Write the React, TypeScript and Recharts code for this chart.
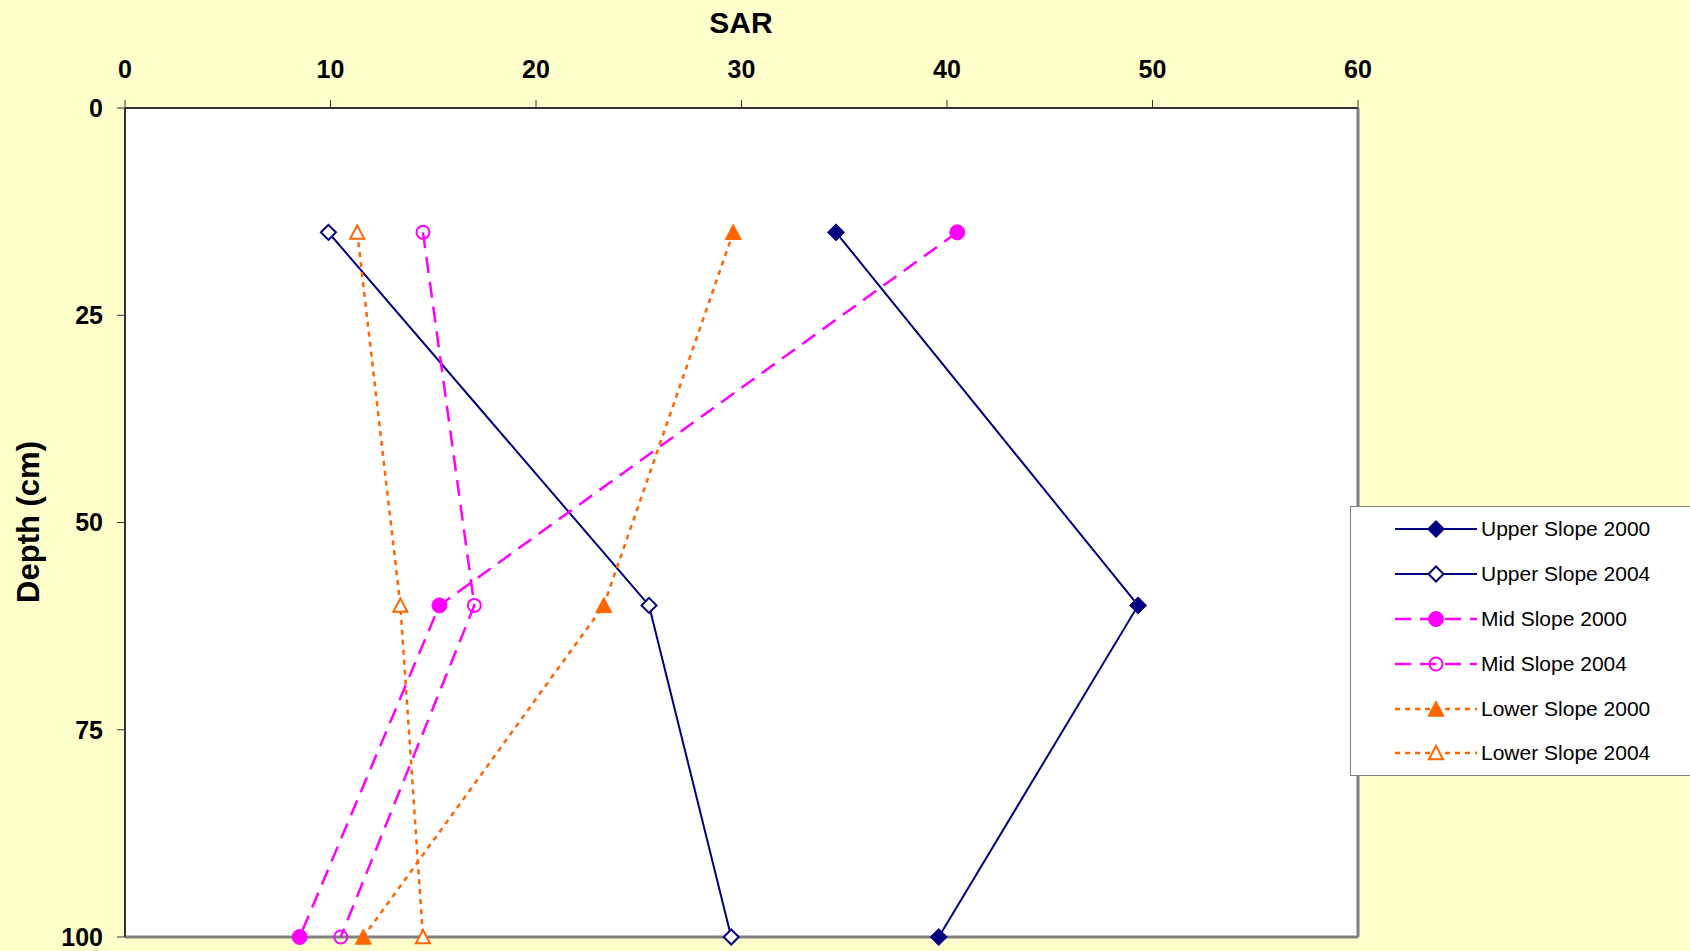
import React from "react";
import {
  ScatterChart,
  Scatter,
  XAxis,
  YAxis,
  CartesianGrid,
  ReferenceLine,
  Legend,
  Label,
} from "recharts";

// Sampling depths (cm) shared by every profile
const depths = [15, 60, 100];

// SAR readings at each depth
const upperSlope2000 = [34.6, 49.3, 39.6];
const upperSlope2004 = [9.9, 25.5, 29.5];
const midSlope2000 = [40.5, 15.3, 8.5];
const midSlope2004 = [14.5, 17.0, 10.5];
const lowerSlope2000 = [29.6, 23.3, 11.6];
const lowerSlope2004 = [11.3, 13.4, 14.5];

const sarTicks = [0, 10, 20, 30, 40, 50, 60];
const depthTicks = [0, 25, 50, 75, 100];

const NAVY = "#000080";
const MAGENTA = "#FF00FF";
const ORANGE = "#FF6600";
const FONT = "'Liberation Sans', Arial, sans-serif";

type MarkerKind = "diamond" | "circle" | "triangle";

type SeriesDef = {
  name: string;
  values: number[];
  color: string;
  dash?: string;
  width: number;
  marker: MarkerKind;
  filled: boolean;
};

const series: SeriesDef[] = [
  { name: "Upper Slope 2000", values: upperSlope2000, color: NAVY, width: 2, marker: "diamond", filled: true },
  { name: "Upper Slope 2004", values: upperSlope2004, color: NAVY, width: 2, marker: "diamond", filled: false },
  { name: "Mid Slope 2000", values: midSlope2000, color: MAGENTA, dash: "16 9", width: 2.5, marker: "circle", filled: true },
  { name: "Mid Slope 2004", values: midSlope2004, color: MAGENTA, dash: "16 9", width: 2.5, marker: "circle", filled: false },
  { name: "Lower Slope 2000", values: lowerSlope2000, color: ORANGE, dash: "5 5", width: 2.5, marker: "triangle", filled: true },
  { name: "Lower Slope 2004", values: lowerSlope2004, color: ORANGE, dash: "5 5", width: 2.5, marker: "triangle", filled: false },
];

function Marker({ cx, cy, kind, color, filled }: { cx: number; cy: number; kind: MarkerKind; color: string; filled: boolean }) {
  const stroke = color;
  const sw = filled ? 1 : 2;
  if (kind === "diamond") {
    const r = filled ? 8.5 : 7.5;
    return (
      <polygon
        points={`${cx},${cy - r} ${cx + r},${cy} ${cx},${cy + r} ${cx - r},${cy}`}
        fill={filled ? color : "#fff"}
        stroke={stroke}
        strokeWidth={sw}
      />
    );
  }
  if (kind === "circle") {
    return <circle cx={cx} cy={cy} r={filled ? 7.5 : 6.5} fill={filled ? color : "none"} stroke={stroke} strokeWidth={sw} />;
  }
  const h = filled ? 8 : 7;
  return (
    <polygon
      points={`${cx},${cy - h} ${cx + h},${cy + h * 0.9} ${cx - h},${cy + h * 0.9}`}
      fill={filled ? color : "#fff"}
      stroke={stroke}
      strokeWidth={sw}
      strokeLinejoin="miter"
    />
  );
}

const renderLegend = () => (
  <div
    style={{
      width: "100%",
      height: "100%",
      boxSizing: "border-box",
      border: "1.5px solid #808080",
      background: "#fff",
      fontFamily: FONT,
      fontSize: 21,
      color: "#000",
    }}
  >
    {series.map((s) => (
      <div key={s.name} style={{ display: "flex", alignItems: "center", height: 44.8 }}>
        <svg width={130} height={30} style={{ flex: "none" }}>
          <line x1={44} y1={15} x2={126} y2={15} stroke={s.color} strokeWidth={s.width} strokeDasharray={s.dash} />
          <Marker cx={85} cy={15} kind={s.marker} color={s.color} filled={s.filled} />
        </svg>
        <span style={{ whiteSpace: "nowrap" }}>{s.name}</span>
      </div>
    ))}
  </div>
);

const tickStyle = { fontSize: 25, fontWeight: "bold" as const, fill: "#000", fontFamily: FONT };

export default function App() {
  return (
    <div style={{ position: "absolute", left: 0, top: 0, width: 1690, height: 951, background: "#FFFFCC", overflow: "hidden" }}>
      <ScatterChart width={1690} height={951} margin={{ top: 0, left: 0, right: 332, bottom: 14 }}>
        <CartesianGrid vertical={false} stroke="#333" strokeWidth={1} fill="#fff" fillOpacity={1} />
        <XAxis
          xAxisId="sar"
          type="number"
          dataKey="sar"
          orientation="top"
          domain={[0, 60]}
          ticks={sarTicks}
          height={108}
          tickSize={8}
          tickMargin={22}
          tick={tickStyle}
          axisLine={{ stroke: "#333", strokeWidth: 2 }}
          tickLine={{ stroke: "#333", strokeWidth: 1 }}
        >
          <Label
            content={() => (
              <text x={741} y={33} textAnchor="middle" fontFamily={FONT} fontSize={30} fontWeight="bold" fill="#000">
                SAR
              </text>
            )}
          />
        </XAxis>
        <YAxis
          yAxisId="depth"
          type="number"
          dataKey="depth"
          reversed
          domain={[0, 100]}
          ticks={depthTicks}
          width={125}
          tickSize={8}
          tickMargin={14}
          tick={tickStyle}
          axisLine={{ stroke: "#333", strokeWidth: 2 }}
          tickLine={{ stroke: "#333", strokeWidth: 1 }}
        >
          <Label
            content={() => (
              <text
                x={28}
                y={522}
                transform="rotate(-90 28 522)"
                textAnchor="middle"
                dominantBaseline="central"
                fontFamily={FONT}
                fontSize={31}
                fontWeight="bold"
                fill="#000"
              >
                Depth (cm)
              </text>
            )}
          />
        </YAxis>
        <ReferenceLine xAxisId="sar" yAxisId="depth" x={60} stroke="#808080" strokeWidth={3} />
        <ReferenceLine xAxisId="sar" yAxisId="depth" y={100} stroke="#808080" strokeWidth={3} />
        {series.map((s) => (
          <Scatter
            key={s.name}
            name={s.name}
            xAxisId="sar"
            yAxisId="depth"
            data={s.values.map((v, i) => ({ sar: v, depth: depths[i] }))}
            fill={s.color}
            line={{ stroke: s.color, strokeWidth: s.width, strokeDasharray: s.dash }}
            lineType="joint"
            isAnimationActive={false}
            shape={(p: any) => <Marker cx={p.cx} cy={p.cy} kind={s.marker} color={s.color} filled={s.filled} />}
          />
        ))}
        <Legend
          layout="vertical"
          align="center"
          verticalAlign="middle"
          content={renderLegend}
          wrapperStyle={{ left: 1350, top: 506, width: 345, height: 270 }}
        />
      </ScatterChart>
    </div>
  );
}
